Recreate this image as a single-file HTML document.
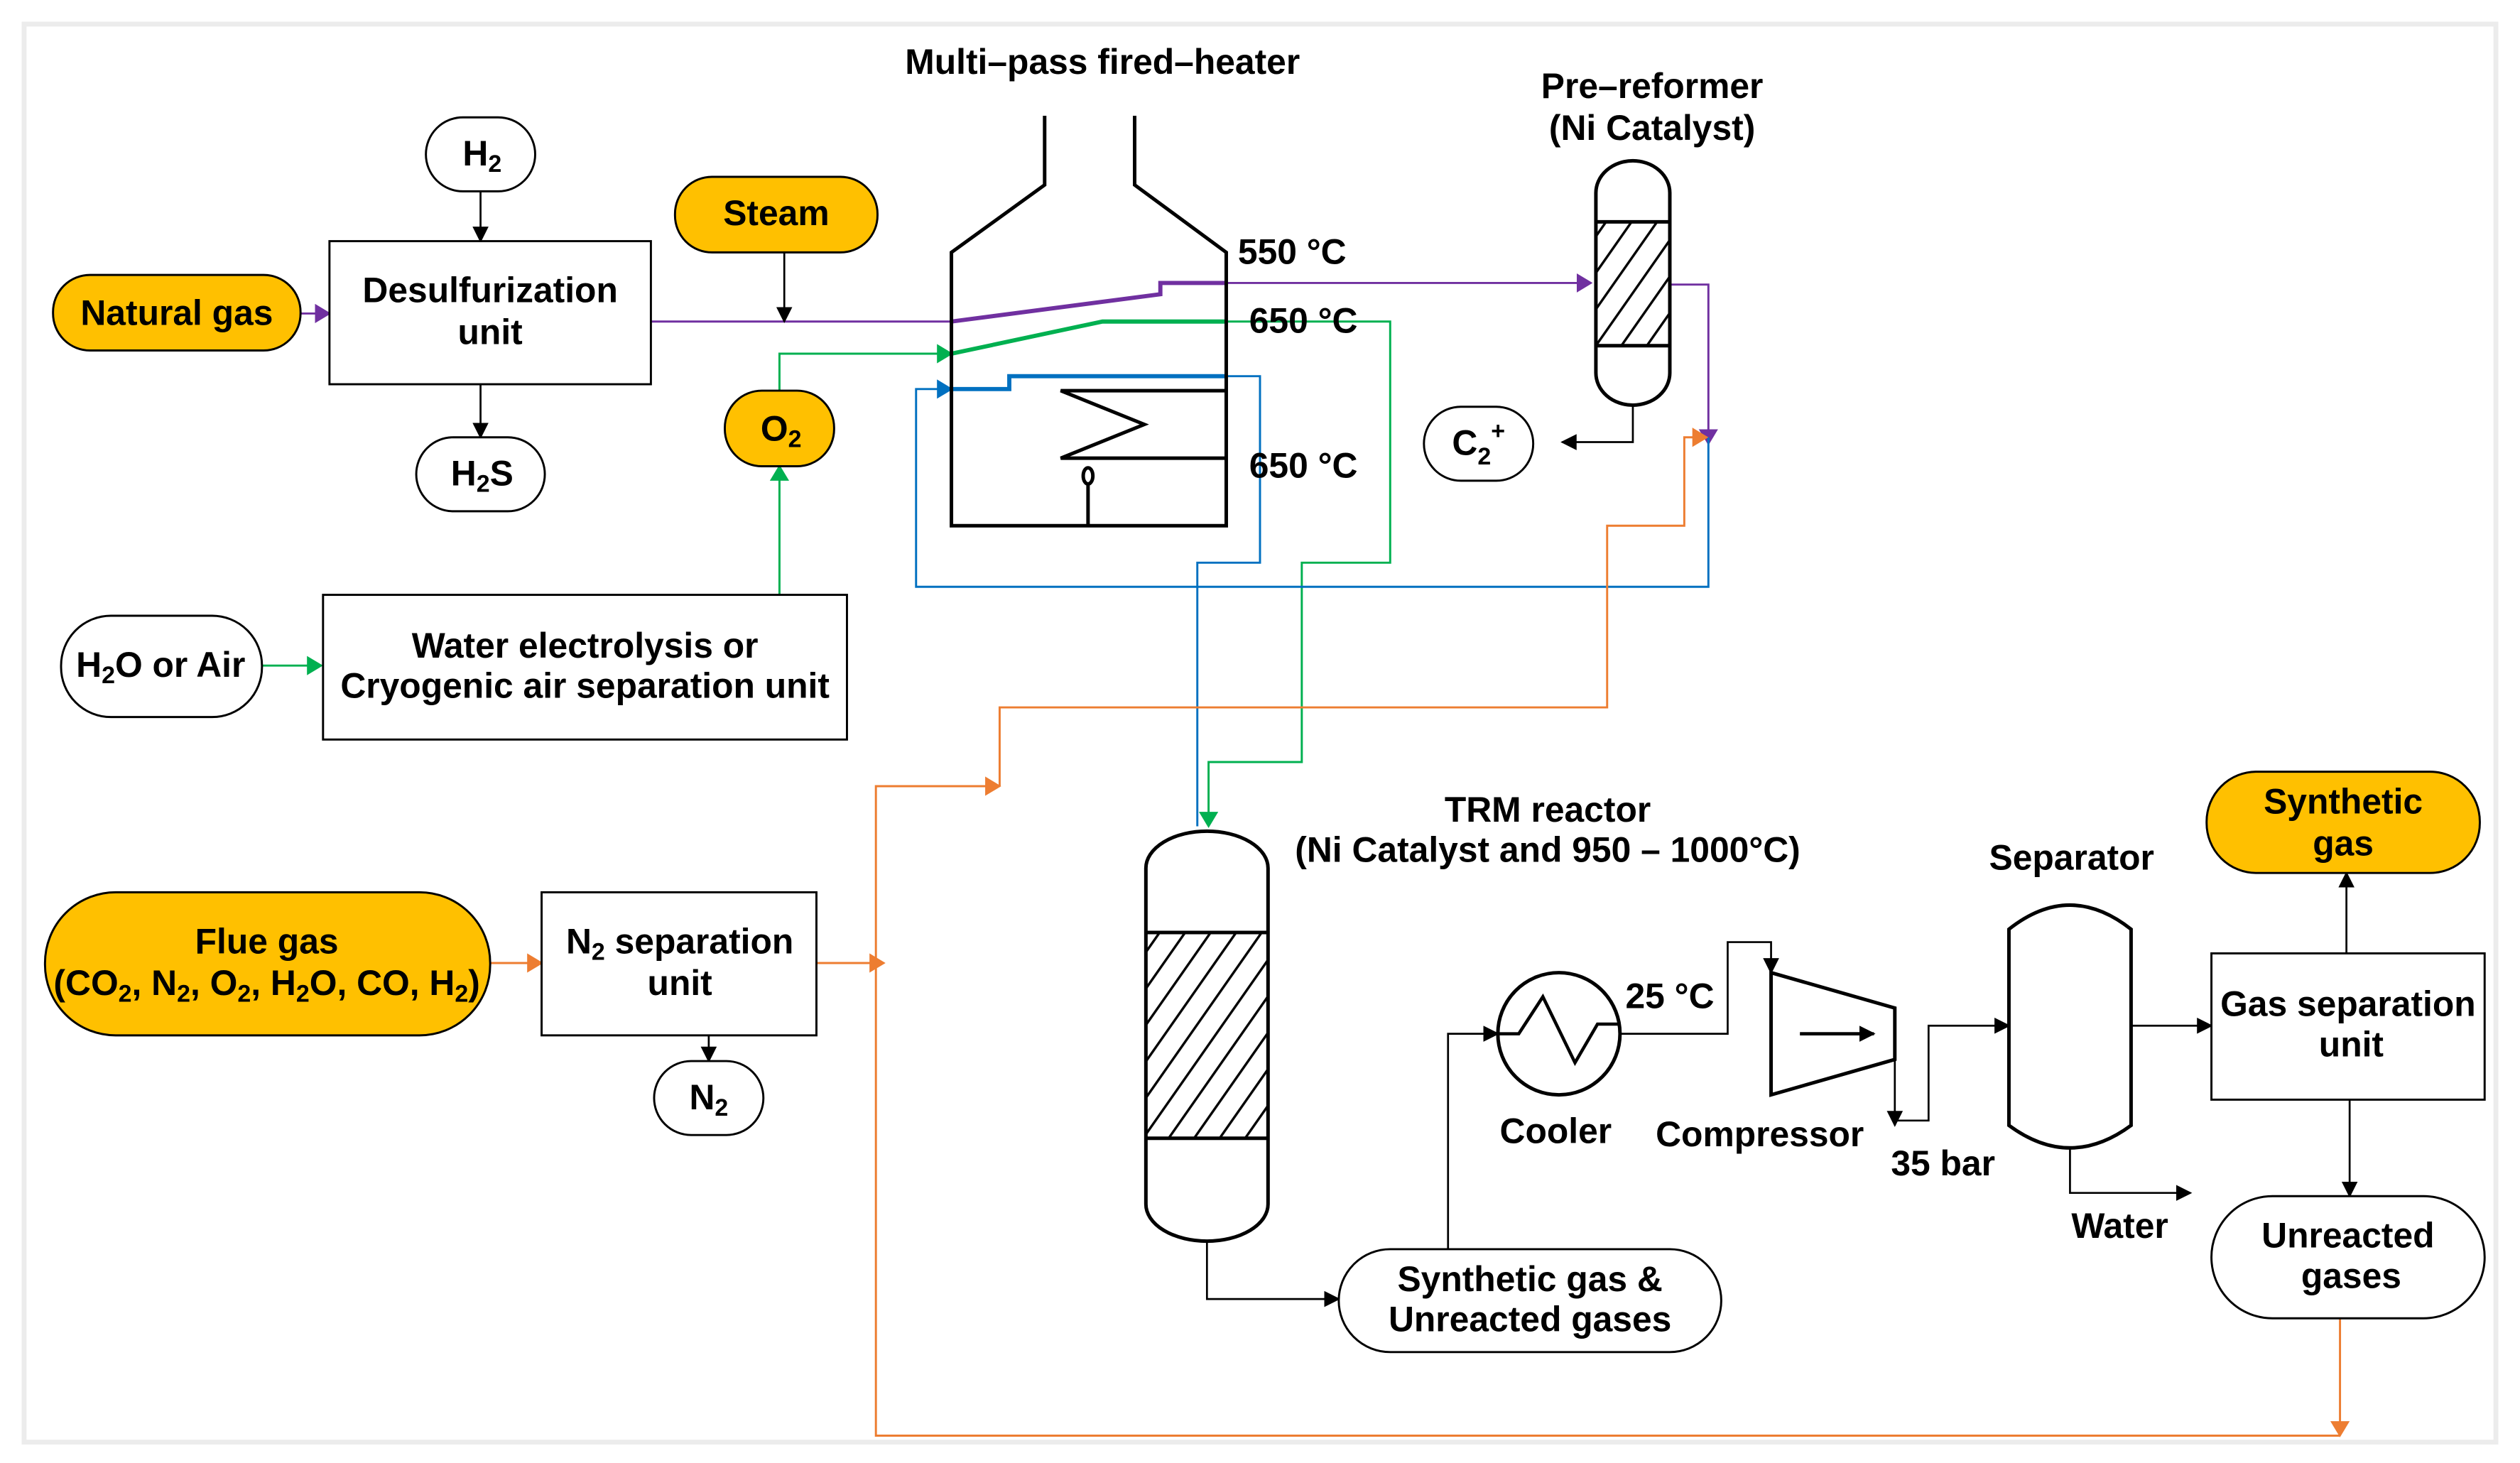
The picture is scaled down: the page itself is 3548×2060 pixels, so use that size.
<!DOCTYPE html>
<html><head><meta charset="utf-8"><style>
html,body{margin:0;padding:0;background:#fff;}
svg{display:block;}
text{font-family:"Liberation Sans",Arial,sans-serif;font-weight:bold;font-size:22px;fill:#000;text-anchor:middle;}
</style></head><body>
<svg width="3548" height="2060" viewBox="0 0 1568 910" preserveAspectRatio="none" xmlns="http://www.w3.org/2000/svg">
<defs>
<pattern id="hat" width="13" height="13" patternUnits="userSpaceOnUse" patternTransform="rotate(35)">
<rect width="13" height="13" fill="#fff"/><line x1="0" y1="0" x2="0" y2="13" stroke="#000" stroke-width="3"/>
</pattern>
<marker id="ak" markerWidth="10" markerHeight="10" refX="9" refY="5" orient="auto" markerUnits="userSpaceOnUse"><path d="M0,0 L10,5 L0,10 z" fill="#000"/></marker>
<marker id="ap" markerWidth="10" markerHeight="12" refX="9" refY="6" orient="auto" markerUnits="userSpaceOnUse"><path d="M0,0 L10,6 L0,12 z" fill="#7030A0"/></marker>
<marker id="ag" markerWidth="10" markerHeight="12" refX="9" refY="6" orient="auto" markerUnits="userSpaceOnUse"><path d="M0,0 L10,6 L0,12 z" fill="#00B050"/></marker>
<marker id="ab" markerWidth="10" markerHeight="12" refX="9" refY="6" orient="auto" markerUnits="userSpaceOnUse"><path d="M0,0 L10,6 L0,12 z" fill="#0070C0"/></marker>
<marker id="ao" markerWidth="10" markerHeight="12" refX="9" refY="6" orient="auto" markerUnits="userSpaceOnUse"><path d="M0,0 L10,6 L0,12 z" fill="#ED7D31"/></marker>
</defs>
<rect x="15" y="15" width="1538" height="882" fill="#fff" stroke="#ececec" stroke-width="3"/>

<g fill="none" stroke-width="1.3">
<path d="M405,200 H592 L722,183 V176 H990" stroke="#7030A0" marker-end="url(#ap)"/>
<path d="M592,200 L722,183 V176 H763" stroke="#7030A0" stroke-width="2.6"/>
<path d="M1038,177 H1063 V276" stroke="#7030A0" marker-end="url(#ap)"/>
<path d="M187,195 H205" stroke="#7030A0" marker-end="url(#ap)"/>
<path d="M485,370 V290" stroke="#00B050" marker-end="url(#ag)"/>
<path d="M485,243 V220 H592" stroke="#00B050" marker-end="url(#ag)"/>
<path d="M592,220 L686,200 H763" stroke="#00B050" stroke-width="2.6"/>
<path d="M763,200 H865 V350 H810 V474 H752 V514" stroke="#00B050" marker-end="url(#ag)"/>
<path d="M163,414 H200" stroke="#00B050" marker-end="url(#ag)"/>
<path d="M1063,272 V365 H570 V242 H592" stroke="#0070C0" marker-end="url(#ab)"/>
<path d="M592,242 H628 V234 H763" stroke="#0070C0" stroke-width="2.6"/>
<path d="M763,234 H784 V350 H745 V514" stroke="#0070C0"/>
<path d="M1456,820 V893" stroke="#ED7D31" marker-end="url(#ao)"/>
<path d="M1456,893 H545 V489 H622" stroke="#ED7D31" marker-end="url(#ao)"/>
<path d="M622,489 V440 H1000 V327 H1048 V272 H1062" stroke="#ED7D31" marker-end="url(#ao)"/>
<path d="M305,599 H337" stroke="#ED7D31" marker-end="url(#ao)"/>
<path d="M508,599 H550" stroke="#ED7D31" marker-end="url(#ao)"/>
</g>

<g fill="none" stroke="#000" stroke-width="1.2">
<path d="M299,119 V150" marker-end="url(#ak)"/>
<path d="M299,239 V272" marker-end="url(#ak)"/>
<path d="M488,157 V200" marker-end="url(#ak)"/>
<path d="M1016,252 V275 H972" marker-end="url(#ak)"/>
<path d="M441,644 V660" marker-end="url(#ak)"/>
<path d="M751,772 V808 H833" marker-end="url(#ak)"/>
<path d="M901,777 V643 H932" marker-end="url(#ak)"/>
<path d="M1008,643 H1075 V586 H1102 V605" marker-end="url(#ak)"/>
<path d="M1179,640 V700" marker-end="url(#ak)"/>
<path d="M1179,697 H1200 V638 H1250" marker-end="url(#ak)"/>
<path d="M1326,638 H1376" marker-end="url(#ak)"/>
<path d="M1288,714 V742 H1363" marker-end="url(#ak)"/>
<path d="M1460,593 V543" marker-end="url(#ak)"/>
<path d="M1462,684 V744" marker-end="url(#ak)"/>
<path d="M1120,643 H1166" stroke-width="2" marker-end="url(#ak)"/>
</g>

<g stroke="#000" stroke-width="1.3">
<rect x="205" y="150" width="200" height="89" fill="#fff"/>
<rect x="201" y="370" width="326" height="90" fill="#fff"/>
<rect x="337" y="555" width="171" height="89" fill="#fff"/>
<rect x="1376" y="593" width="170" height="91" fill="#fff"/>
<rect x="265" y="73" width="68" height="46" rx="23" fill="#fff"/>
<rect x="259" y="272" width="80" height="46" rx="23" fill="#fff"/>
<rect x="451" y="243" width="68" height="47" rx="23" fill="#FFC000"/>
<rect x="33" y="171" width="154" height="47" rx="23" fill="#FFC000"/>
<rect x="420" y="110" width="126" height="47" rx="23" fill="#FFC000"/>
<rect x="38" y="383" width="125" height="63" rx="31" fill="#fff"/>
<rect x="886" y="253" width="68" height="46" rx="23" fill="#fff"/>
<rect x="28" y="555" width="277" height="89" rx="44" fill="#FFC000"/>
<rect x="407" y="660" width="68" height="46" rx="23" fill="#fff"/>
<rect x="833" y="777" width="238" height="64" rx="32" fill="#fff"/>
<rect x="1373" y="480" width="170" height="63" rx="31" fill="#FFC000"/>
<rect x="1376" y="744" width="170" height="76" rx="38" fill="#fff"/>
</g>

<g fill="none" stroke="#000" stroke-width="2.2">
<path d="M650,72 V115 L592,157 V327 H763 V157 L706,115 V72"/>
<path d="M763,243 H660 L712,264 L660,285 H763"/>
<path d="M677,327 V301"/>
<ellipse cx="677" cy="296" rx="3" ry="5"/>
</g>

<rect x="993" y="138" width="46" height="77" fill="url(#hat)"/>
<path d="M993,120 A23,20 0 0 1 1039,120 V232 A23,20 0 0 1 993,232 Z" fill="none" stroke="#000" stroke-width="2.2"/>
<path d="M993,138 H1039 M993,215 H1039" stroke="#000" stroke-width="2.2"/>

<rect x="713" y="580" width="76" height="128" fill="url(#hat)"/>
<path d="M713,540 A38,23 0 0 1 789,540 V749 A38,23 0 0 1 713,749 Z" fill="none" stroke="#000" stroke-width="2.2"/>
<path d="M713,580 H789 M713,708 H789" stroke="#000" stroke-width="2.2"/>

<circle cx="970" cy="643" r="38" fill="#fff" stroke="#000" stroke-width="2.2"/>
<path d="M932,643 H945 L960,620 L980,661 L994,637 H1008" fill="none" stroke="#000" stroke-width="2"/>
<path d="M1102,605 L1179,627 V659 L1102,681 Z" fill="none" stroke="#000" stroke-width="2.2"/>
<path d="M1120,643 H1160" stroke="#000" stroke-width="2"/>
<path d="M1250,578 Q1288,548 1326,578 V700 Q1288,728 1250,700 Z" fill="#fff" stroke="#000" stroke-width="2.2"/>

<text x="686" y="46">Multi–pass fired–heater</text>
<text x="1028" y="61">Pre–reformer</text>
<text x="1028" y="87">(Ni Catalyst)</text>
<text x="804" y="164">550 °C</text>
<text x="811" y="207">650 °C</text>
<text x="811" y="297">650 °C</text>
<text x="300" y="103">H<tspan font-size="15" dy="4">2</tspan></text>
<text x="300" y="302">H<tspan font-size="15" dy="4">2</tspan><tspan dy="-4">S</tspan></text>
<text x="486" y="274">O<tspan font-size="15" dy="4">2</tspan></text>
<text x="920" y="283">C<tspan font-size="15" dy="6">2</tspan><tspan font-size="15" dy="-16">+</tspan></text>
<text x="441" y="690">N<tspan font-size="15" dy="4">2</tspan></text>
<text x="110" y="202">Natural gas</text>
<text x="483" y="140">Steam</text>
<text x="305" y="188">Desulfurization</text>
<text x="305" y="214">unit</text>
<text x="100" y="421">H<tspan font-size="15" dy="4">2</tspan><tspan dy="-4">O or Air</tspan></text>
<text x="364" y="409">Water electrolysis or</text>
<text x="364" y="434">Cryogenic air separation unit</text>
<text x="166" y="593">Flue gas</text>
<text x="166" y="619">(CO<tspan font-size="15" dy="4">2</tspan><tspan dy="-4">, N</tspan><tspan font-size="15" dy="4">2</tspan><tspan dy="-4">, O</tspan><tspan font-size="15" dy="4">2</tspan><tspan dy="-4">, H</tspan><tspan font-size="15" dy="4">2</tspan><tspan dy="-4">O, CO, H</tspan><tspan font-size="15" dy="4">2</tspan><tspan dy="-4">)</tspan></text>
<text x="423" y="593">N<tspan font-size="15" dy="4">2</tspan><tspan dy="-4"> separation</tspan></text>
<text x="423" y="619">unit</text>
<text x="963" y="511">TRM reactor</text>
<text x="963" y="536">(Ni Catalyst and 950 – 1000°C)</text>
<text x="1289" y="541">Separator</text>
<text x="1458" y="506">Synthetic</text>
<text x="1458" y="532">gas</text>
<text x="1039" y="627">25 °C</text>
<text x="968" y="711">Cooler</text>
<text x="1095" y="713">Compressor</text>
<text x="1209" y="731">35 bar</text>
<text x="1319" y="770">Water</text>
<text x="1461" y="632">Gas separation</text>
<text x="1463" y="657">unit</text>
<text x="1461" y="776">Unreacted</text>
<text x="1463" y="801">gases</text>
<text x="952" y="803">Synthetic gas &amp;</text>
<text x="952" y="828">Unreacted gases</text>
</svg>
</body></html>
